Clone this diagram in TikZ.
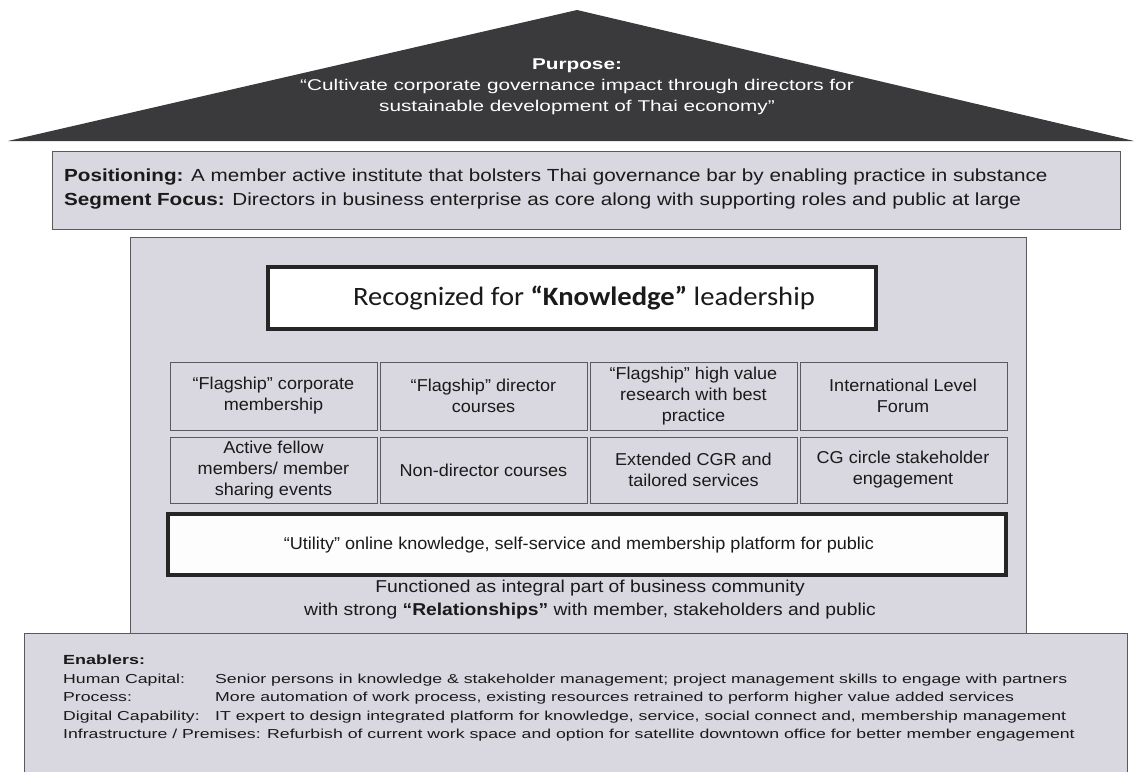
\documentclass[tikz,border=0pt]{standalone}
\usepackage{fontspec}
\setmainfont{Liberation Sans}
\newfontfamily\calib[FakeStretch=1.08]{Carlito}
\newfontfamily\posfont[FakeStretch=1.18]{Liberation Sans}
\newfontfamily\enfont[FakeStretch=1.36]{Liberation Sans}
\newfontfamily\purfont[FakeStretch=1.33]{Liberation Sans}
\newfontfamily\cellfont[FakeStretch=1.05]{Liberation Sans}
\newfontfamily\funcfont[FakeStretch=1.12]{Liberation Sans}
\definecolor{panel}{HTML}{D9D7DF}
\definecolor{roof}{HTML}{3A3A3C}
\definecolor{edge}{HTML}{5A5A5E}
\definecolor{txt}{HTML}{1A1A1A}
\begin{document}
\begin{tikzpicture}[x=1pt,y=-1pt,
  panelbox/.style={draw=edge,fill=panel,line width=0.9pt},
  cell/.style={draw=edge,fill=panel,line width=0.9pt},
  celltext/.style={align=center,font=\cellfont\fontsize{17.2}{21}\selectfont,text=txt},
  whitebox/.style={draw=black!85,line width=3.5pt},
  entext/.style={anchor=base west,font=\enfont\fontsize{13}{15}\selectfont,text=txt,inner sep=0pt},
  postext/.style={anchor=base west,inner sep=0pt,font=\posfont\fontsize{17.5}{20}\selectfont,text=txt}]
\useasboundingbox (0,0) rectangle (1134,771);
% roof
\fill[roof] (577,10) -- (1134,141) -- (8,141) -- cycle;
\node[text=white,align=center,font=\purfont\fontsize{15.6}{21}\selectfont] (purpose) at (577,87)
 {\textbf{Purpose:}\\“Cultivate corporate governance impact through directors for\\sustainable development of Thai economy”};
% positioning
\draw[panelbox] (52,151) rectangle (1120,229);
\node[postext] (pos) at (64,181)
 {\textbf{Positioning:} A member active institute that bolsters Thai governance bar by enabling practice in substance};
\node[postext] (seg) at (64,205)
 {\textbf{Segment Focus:} Directors in business enterprise as core along with supporting roles and public at large};
% central panel
\draw[panelbox] (130,237) rectangle (1026,640);
\draw[whitebox,fill=white] (268,267) rectangle (876,329);
\node[font=\calib\fontsize{26.5}{30}\selectfont,text=txt] (know) at (584,298)
 {Recognized for \textbf{“Knowledge”} leadership};
% grid
\foreach \x/\r in {170/1,380/2,590/3,800/4}{
  \draw[cell] (\x,362) rectangle ++(207,68);
  \draw[cell] (\x,437) rectangle ++(207,66);
}
\node[celltext] (c11) at (273.5,396) {“Flagship” corporate\\membership};
\node[celltext] (c12) at (483.5,396) {“Flagship” director\\courses};
\node[celltext] (c13) at (693.5,396) {“Flagship” high value\\research with best\\practice};
\node[celltext] (c14) at (903,396) {International Level\\Forum};
\node[celltext] (c21) at (273.5,470) {Active fellow\\members/ member\\sharing events};
\node[celltext] (c22) at (483.5,470) {Non-director courses};
\node[celltext] (c23) at (693.5,470) {Extended CGR and\\tailored services};
\node[celltext] (c24) at (903,470) {CG circle stakeholder\\engagement};
% utility
\draw[whitebox,fill=white!96!panel] (168,514) rectangle (1006,575);
\node[celltext] (util) at (579,545) {“Utility” online knowledge, self-service and membership platform for public};
\node[align=center,font=\funcfont\fontsize{17.2}{23}\selectfont,text=txt] (func) at (590,600)
 {Functioned as integral part of business community\\with strong \textbf{“Relationships”} with member, stakeholders and public};
% enablers
\draw[panelbox] (24,633) rectangle (1127,775);
\node[entext,font=\enfont\fontsize{13.2}{15}\selectfont\bfseries] (en) at (63,664) {Enablers:};
\node[entext] (l1) at (63,683) {Human Capital:};
\node[entext] (t1) at (215,683) {Senior persons in knowledge \& stakeholder management; project management skills to engage with partners};
\node[entext] (l2) at (63,701) {Process:};
\node[entext] (t2) at (215,701) {More automation of work process, existing resources retrained to perform higher value added services};
\node[entext] (l3) at (63,720) {Digital Capability:};
\node[entext] (t3) at (215,720) {IT expert to design integrated platform for knowledge, service, social connect and, membership management};
\node[entext] (l4) at (63,738) {Infrastructure / Premises: Refurbish of current work space and option for satellite downtown office for better member engagement};
\end{tikzpicture}
\end{document}
